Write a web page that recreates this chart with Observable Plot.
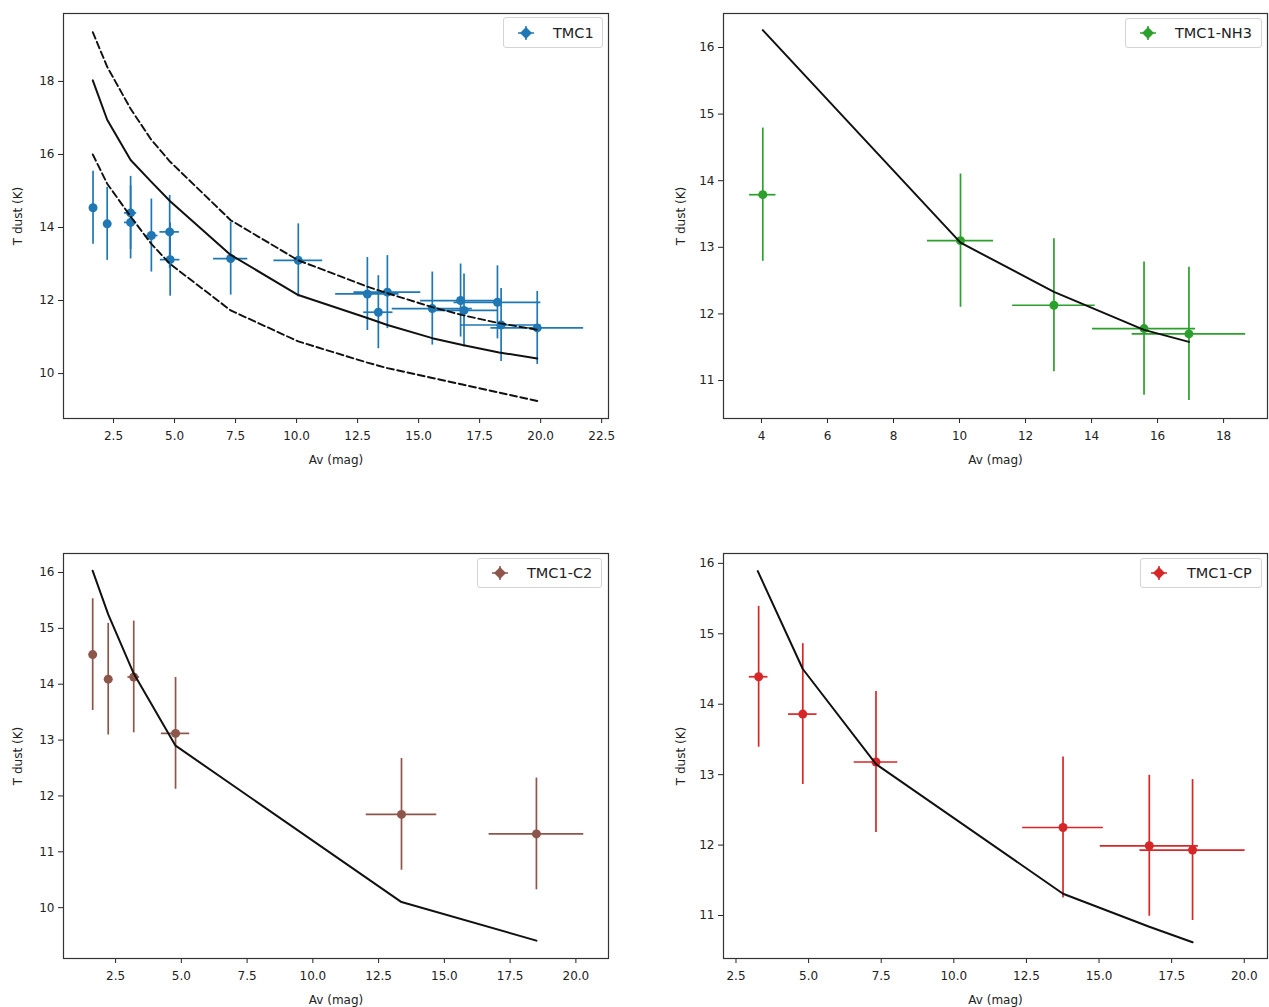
<!DOCTYPE html>
<html><head><meta charset="utf-8">
<script src="https://cdn.jsdelivr.net/npm/d3@7"></script>
<script src="https://cdn.jsdelivr.net/npm/@observablehq/plot@0.6"></script>
<style>
body{margin:0;background:#fff;width:1269px;height:1007px;position:relative;overflow:hidden;font-family:"DejaVu Sans",sans-serif;}
.panel{position:absolute;}
.legend{position:absolute;border:1px solid #d4d4d4;border-radius:3px;background:rgba(255,255,255,0.85);font-size:14.5px;color:#222;box-sizing:border-box;}
.legend svg{position:absolute;top:50%;margin-top:-8px;}
.legend span{position:absolute;top:50%;transform:translateY(-50%);white-space:nowrap;}
</style></head><body>
<script>
// ---- TMC1 ----
const tmc1Av    = [1.66, 2.24, 3.2, 3.2, 4.05, 4.8, 4.82, 7.3, 10.07, 12.9, 13.35, 13.72, 15.56, 16.72, 16.86, 18.23, 18.38, 19.86];
const tmc1T     = [14.54, 14.1, 14.4, 14.14, 13.78, 13.88, 13.12, 13.15, 13.1, 12.18, 11.68, 12.23, 11.78, 12.0, 11.73, 11.95, 11.33, 11.25];
const tmc1AvErr = [0, 0, 0.25, 0.25, 0.27, 0.4, 0.4, 0.7, 1.0, 1.3, 0.6, 1.37, 1.64, 1.64, 1.4, 1.78, 1.64, 1.9];
const tmc1TErr  = [1.0, 1.0, 1.0, 1.0, 1.0, 1.0, 1.0, 1.0, 1.0, 1.0, 1.0, 1.0, 1.0, 1.0, 1.0, 1.0, 1.0, 1.0];
const tmc1ModelAv   = [1.65, 2.24, 3.2, 4.05, 4.82, 7.3, 10.07, 12.9, 13.72, 15.56, 16.8, 18.3, 19.86];
const tmc1ModelT    = [18.03, 16.95, 15.85, 15.25, 14.72, 13.25, 12.15, 11.52, 11.33, 10.97, 10.78, 10.58, 10.41];
const tmc1ModelHigh = [19.35, 18.4, 17.25, 16.4, 15.8, 14.2, 13.1, 12.38, 12.2, 11.82, 11.6, 11.38, 11.2];
const tmc1ModelLow  = [16.0, 15.2, 14.3, 13.55, 13.0, 11.73, 10.88, 10.3, 10.15, 9.88, 9.7, 9.48, 9.25];

// ---- TMC1-NH3 ----
const nh3Av    = [4.04, 10.03, 12.86, 15.59, 16.95];
const nh3T     = [13.79, 13.1, 12.13, 11.78, 11.7];
const nh3AvErr = [0.4, 1.0, 1.25, 1.56, 1.72];
const nh3TErr  = [1.0, 1.0, 1.0, 1.0, 1.0];
const nh3ModelAv = [4.04, 10.03, 12.86, 15.59, 16.95];
const nh3ModelT  = [16.26, 13.07, 12.33, 11.76, 11.58];

// ---- TMC1-C2 ----
const c2Av    = [1.63, 2.22, 3.19, 4.78, 13.37, 18.5];
const c2T     = [14.53, 14.09, 14.13, 13.12, 11.67, 11.32];
const c2AvErr = [0, 0, 0.22, 0.54, 1.34, 1.8];
const c2TErr  = [1.0, 1.0, 1.0, 1.0, 1.0, 1.0];
const c2ModelAv = [1.63, 2.22, 3.19, 4.78, 13.37, 18.5];
const c2ModelT  = [16.03, 15.25, 14.19, 12.9, 10.1, 9.41];

// ---- TMC1-CP ----
const cpAv    = [3.28, 4.8, 7.32, 13.76, 16.73, 18.22];
const cpT     = [14.39, 13.86, 13.18, 12.25, 11.99, 11.93];
const cpAvErr = [0.32, 0.49, 0.75, 1.39, 1.69, 1.81];
const cpTErr  = [1.0, 1.0, 1.0, 1.0, 1.0, 1.0];
const cpModelAv = [3.25, 4.8, 7.32, 13.76, 16.73, 18.22];
const cpModelT  = [15.89, 14.5, 13.15, 11.31, 10.84, 10.62];

// tick labels
const ticksX1 = [2.5, 5, 7.5, 10, 12.5, 15, 17.5, 20, 22.5];
const ticksY1 = [10, 12, 14, 16, 18];
const ticksX2 = [4, 6, 8, 10, 12, 14, 16, 18];
const ticksY2 = [11, 12, 13, 14, 15, 16];
const ticksX3 = [2.5, 5, 7.5, 10, 12.5, 15, 17.5, 20];
const ticksY3 = [10, 11, 12, 13, 14, 15, 16];
const ticksX4 = [2.5, 5, 7.5, 10, 12.5, 15, 17.5, 20];
const ticksY4 = [11, 12, 13, 14, 15, 16];

const zipPts = (x, y, xe, ye) => x.map((v, i) => ({x: v, y: y[i], xe: xe[i], ye: ye[i]}));
const zipLine = (x, y) => x.map((v, i) => ({x: v, y: y[i]}));

function panel(c) {
  const pts = zipPts(c.x, c.y, c.xe, c.ye);
  const marks = [
    Plot.ruleY(pts.filter(d => d.xe > 0), {y: "y", x1: d => d.x - d.xe, x2: d => d.x + d.xe, stroke: c.color, strokeWidth: 1.7}),
    Plot.ruleX(pts, {x: "x", y1: d => d.y - d.ye, y2: d => d.y + d.ye, stroke: c.color, strokeWidth: 1.7}),
    Plot.dot(pts, {x: "x", y: "y", r: 4.5, fill: c.color, stroke: "none"}),
  ];
  for (const l of c.dashed || []) marks.push(Plot.line(l, {x: "x", y: "y", stroke: "#111", strokeWidth: 1.9, strokeDasharray: "7,3.5"}));
  marks.push(Plot.line(c.model, {x: "x", y: "y", stroke: "#111", strokeWidth: 2}));
  marks.push(Plot.frame({stroke: "#333", strokeWidth: 1.2}));
  const svg = Plot.plot({
    width: c.width, height: c.height,
    marginLeft: c.ml, marginRight: c.mr, marginTop: 13, marginBottom: 52,
    style: {fontFamily: "DejaVu Sans", fontSize: "12px", color: "#222", background: "white", overflow: "hidden"},
    x: {domain: c.xd, ticks: c.xt, tickFormat: c.xfmt, tickSize: 5, tickPadding: 8, label: "Av (mag)", labelAnchor: "center", labelOffset: 45, labelArrow: "none"},
    y: {domain: c.yd, ticks: c.yt, tickFormat: d3.format("d"), tickSize: 5, tickPadding: 4, label: "T dust (K)", labelAnchor: "center", labelOffset: c.lo, labelArrow: "none"},
    marks
  });
  svg.style.overflow = "hidden";
  const div = document.createElement("div");
  div.className = "panel";
  div.style.left = c.left + "px"; div.style.top = c.top + "px";
  div.style.width = c.width + "px"; div.style.height = c.height + "px";
  div.appendChild(svg);
  document.body.appendChild(div);

  const lg = document.createElement("div");
  lg.className = "legend";
  const [lx, ly, lw, lh, mx, tx] = c.legendBox;
  lg.style.left = lx + "px"; lg.style.top = ly + "px"; lg.style.width = lw + "px"; lg.style.height = lh + "px";
  lg.innerHTML = `<svg width="16" height="16" style="left:${mx - 8}px"><line x1="0" y1="8" x2="16" y2="8" stroke="${c.color}" stroke-width="1.5"/><line x1="8" y1="1" x2="8" y2="15" stroke="${c.color}" stroke-width="1.5"/><polygon points="8,2 14,8 8,14 2,8" fill="${c.color}"/></svg><span style="left:${tx}px">${c.name}</span>`;
  document.body.appendChild(lg);
}

const f1 = d3.format(".1f");

panel({left: 0, top: 0, width: 640, height: 470, ml: 63, mr: 32, lo: 50,
  xd: [0.45, 22.78], yd: [8.77, 19.86], xt: ticksX1, yt: ticksY1, xfmt: f1,
  color: "#1f77b4", name: "TMC1",
  x: tmc1Av, y: tmc1T, xe: tmc1AvErr, ye: tmc1TErr,
  model: zipLine(tmc1ModelAv, tmc1ModelT),
  dashed: [zipLine(tmc1ModelAv, tmc1ModelHigh), zipLine(tmc1ModelAv, tmc1ModelLow)],
  legendBox: [503, 17, 100, 31, 22, 49]});

panel({left: 650, top: 0, width: 619, height: 470, ml: 73, mr: 2, lo: 47,
  xd: [2.85, 19.33], yd: [10.43, 16.51], xt: ticksX2, yt: ticksY2, xfmt: d3.format("d"),
  color: "#2ca02c", name: "TMC1-NH3",
  x: nh3Av, y: nh3T, xe: nh3AvErr, ye: nh3TErr,
  model: zipLine(nh3ModelAv, nh3ModelT),
  legendBox: [1125, 18, 137, 30, 22, 49]});

panel({left: 0, top: 540, width: 640, height: 470, ml: 63, mr: 32, lo: 50,
  xd: [0.52, 21.24], yd: [9.09, 16.34], xt: ticksX3, yt: ticksY3, xfmt: f1,
  color: "#8c564b", name: "TMC1-C2",
  x: c2Av, y: c2T, xe: c2AvErr, ye: c2TErr,
  model: zipLine(c2ModelAv, c2ModelT),
  legendBox: [477, 558, 125, 30, 22, 49]});

panel({left: 650, top: 540, width: 619, height: 470, ml: 73, mr: 2, lo: 47,
  xd: [2.07, 20.8], yd: [10.39, 16.14], xt: ticksX4, yt: ticksY4, xfmt: f1,
  color: "#d62728", name: "TMC1-CP",
  x: cpAv, y: cpT, xe: cpAvErr, ye: cpTErr,
  model: zipLine(cpModelAv, cpModelT),
  legendBox: [1140, 558, 122, 30, 18, 46]});
</script></body></html>
